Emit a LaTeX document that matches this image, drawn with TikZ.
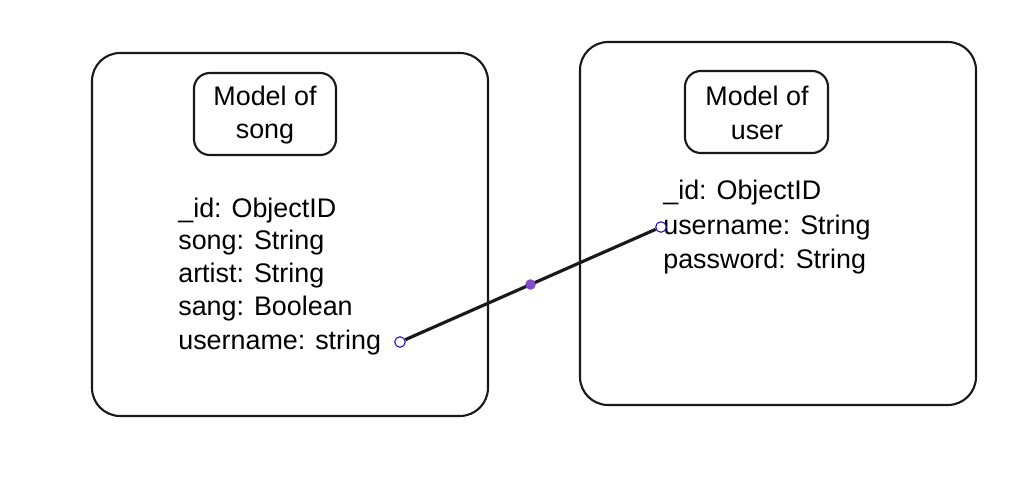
\documentclass[tikz,border=0pt]{standalone}
\usepackage{fontspec}
\setmainfont{Liberation Sans}
\begin{document}
\begin{tikzpicture}[x=0.02cm,y=-0.02cm]
    \tikzset{
        modelbox/.style={draw=black!90, line width=1.2pt, rounded corners=16pt},
        titlebox/.style={draw=black!90, line width=1.2pt, rounded corners=9pt},
        field/.style={anchor=west, inner sep=0pt, font=\fontsize{15.3}{18}\selectfont},
        title/.style={align=center, inner sep=0pt, font=\fontsize{15.3}{19}\selectfont},
        handle/.style={circle, draw=blue!70!violet, fill=white, line width=0.6pt, inner sep=0pt, minimum size=6pt},
        middot/.style={circle, fill=violet!60!blue!70, inner sep=0pt, minimum size=6pt}
    }
    \useasboundingbox (0,0) rectangle (1036,483);
    % model of song
    \draw [modelbox] (92,53) rectangle (488,416);
    \draw [titlebox] (194,73) rectangle (336,155);
    \node [title] (songtitle) at (265,115) {Model of\\song};
    \node [field] (songid) at (178,211) {\_id: ObjectID};
    \node [field] (songsong) at (178,243) {song: String};
    \node [field] (songartist) at (178,276) {artist: String};
    \node [field] (songsang) at (178,309) {sang: Boolean};
    \node [field] (songuser) at (178,343) {username: string};
    % model of user
    \draw [modelbox] (580,42) rectangle (976,405);
    \draw [titlebox] (685,71) rectangle (828,153);
    \node [title] (usertitle) at (757,113) {Model of\\user};
    \node [field] (userid) at (663,193) {\_id: ObjectID};
    \node [field] (username) at (663,228) {username: String};
    \node [field] (userpass) at (663,262) {password: String};
    % link
    \node [handle] (songend) at (400,342) {};
    \node [handle] (userend) at (661,227) {};
    \draw [line width=1.8pt, black!90] (songend) -- node [middot] (linkmid) {} (userend);
\end{tikzpicture}
\end{document}
